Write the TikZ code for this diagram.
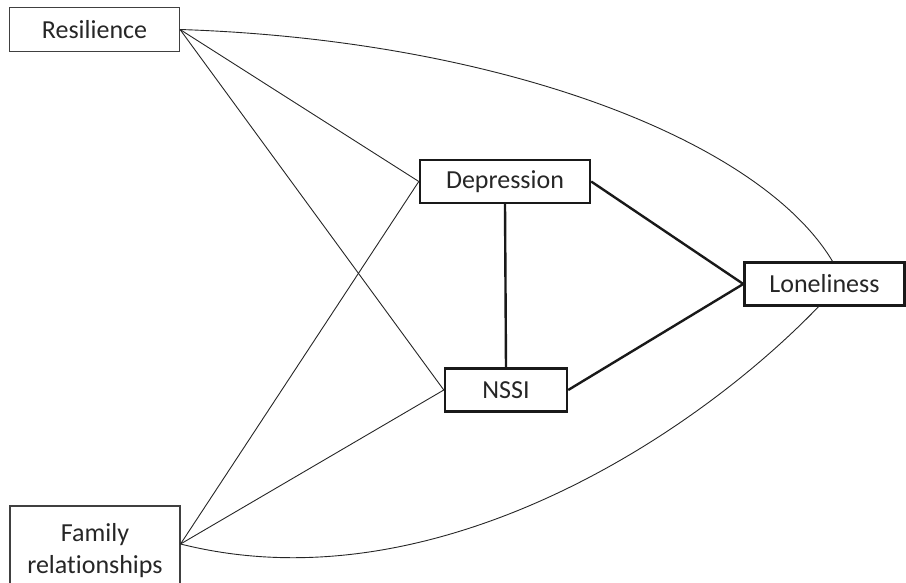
\documentclass[tikz,border=0pt]{standalone}
\usepackage{fontspec}
\setmainfont{Carlito}[Ligatures={NoCommon,NoContextual},Contextuals=NoAlternate]

\begin{document}
\begin{tikzpicture}[x=1pt,y=-1pt,
  every node/.style={font=\fontsize{26}{32}\selectfont,inner sep=0pt,text=black!85}]
  \useasboundingbox (0,0) rectangle (906,583);
  \begin{scope}[
    outer node/.style={draw=black!75,line width=1.1pt,minimum width=170pt,align=center},
    inner node/.style={draw=black!90,line width=2.4pt,minimum height=43pt},
    ]
    \node[outer node,minimum height=44pt](res) at (94.5,29.5) {Resilience};
    \node[outer node,minimum height=90pt](fam) at (95,551) {Family\\relationships};
    \node[inner node,minimum width=170pt](dep) at (505,181.5) {Depression};
    \node[inner node,minimum width=122pt](nssi) at (506,390) {NSSI};
    \node[inner node,minimum width=160pt](lon) at (824.5,284) {Loneliness};
  \end{scope}
  \coordinate (fam e) at ([yshift=7pt]fam.east);
  \begin{scope}[line width=0.9pt,black!85]
    \foreach \from in {res.east,fam e}{
      \draw (\from) -- (dep.west);
      \draw (\from) -- (nssi.west);
    };
    \draw (res.east) .. controls (500,40) and (760,140) .. ([xshift=8pt]lon.north);
    \draw (fam e) .. controls (430,607) and (690,440) .. ([xshift=-6pt]lon.south);
  \end{scope}
  \begin{scope}[line width=2.4pt,black!90]
    \draw (dep.south) -- (nssi.north);
    \draw (dep.east) -- (lon.west);
    \draw (nssi.east) -- (lon.west);
  \end{scope}
\end{tikzpicture}
\end{document}
